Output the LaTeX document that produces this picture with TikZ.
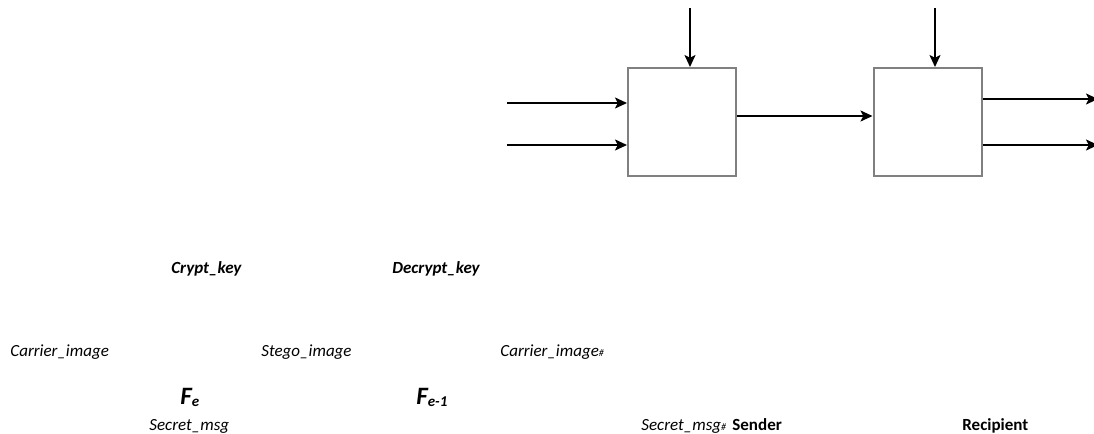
\documentclass[tikz,border=0pt]{standalone}
\usepackage{fontspec}
\setmainfont{Carlito}
\usetikzlibrary{arrows.meta}
\newcommand{\funclabel}[1]{{\fontsize{12.5}{14}\selectfont F}\raisebox{-1.2pt}{\fontsize{7.5}{9}\selectfont #1}}
\newcommand{\hashmark}{{\fontsize{5}{6}\selectfont\#}}

\begin{document}
\begin{tikzpicture}[x = 0.5pt, y = -0.5pt,
    block/.style = {draw = gray, line width = 1pt, fill = white, minimum width = 54pt, minimum height = 54pt, inner sep = 0pt},
    datalbl/.style = {anchor = base west, inner sep = 0pt, font = \fontsize{8.5}{10}\selectfont\itshape},
    keylbl/.style = {anchor = base west, inner sep = 0pt, font = \fontsize{8.5}{10}\selectfont\bfseries\itshape},
    headlbl/.style = {anchor = base west, inner sep = 0pt, font = \fontsize{8.5}{10}\selectfont\bfseries},
    flow/.style = {line width = 0.9pt, -{Stealth[length = 6pt, width = 5.5pt, inset = 1.4pt]}}]

	\useasboundingbox (0, 0) rectangle (1094, 434);

	% embedding and extraction blocks
	\node (enc) at (682, 122)   [block] {};
	\node (dec) at (927.5, 122) [block] {};

	% loose ends of the connectors
	\coordinate (in1)  at (507, 103);
	\coordinate (in2)  at (507, 145);
	\coordinate (key1) at (690, 8);
	\coordinate (key2) at (935, 8);
	\coordinate (mid)  at (800, 116);
	\coordinate (out1) at (1098, 99);
	\coordinate (out2) at (1098, 145);

	\foreach \from/\to in {in1/enc, in2/enc}
		\draw [flow] (\from) -- (\from -| \to.west);
	\foreach \from/\to in {key1/enc, key2/dec}
		\draw [flow] (\from) -- (\from |- \to.north);
	\draw [flow] (mid -| enc.east) -- (mid -| dec.west);
	\foreach \to in {out1, out2}
		\draw [flow] (\to -| dec.east) -- (\to);

	% labels
	\node (ckey)  at (171, 273) [keylbl]  {Crypt\_key};
	\node (dkey)  at (392, 273) [keylbl]  {Decrypt\_key};
	\node (cimg)  at (10, 356)  [datalbl] {Carrier\_image};
	\node (simg)  at (261, 356) [datalbl] {Stego\_image};
	\node (cimg2) at (500, 356) [datalbl] {Carrier\_image\hashmark};
	\node (fenc)  at (180, 404) [keylbl]  {\funclabel{e}};
	\node (fdec)  at (416, 404) [keylbl]  {\funclabel{e-1}};
	\node (smsg)  at (149, 430) [datalbl] {Secret\_msg};
	\node (smsg2) at (641, 430) [datalbl] {Secret\_msg\hashmark};
	\node (snd)   at (732, 430) [headlbl] {Sender};
	\node (rcp)   at (962, 430) [headlbl] {Recipient};
\end{tikzpicture}
\end{document}
